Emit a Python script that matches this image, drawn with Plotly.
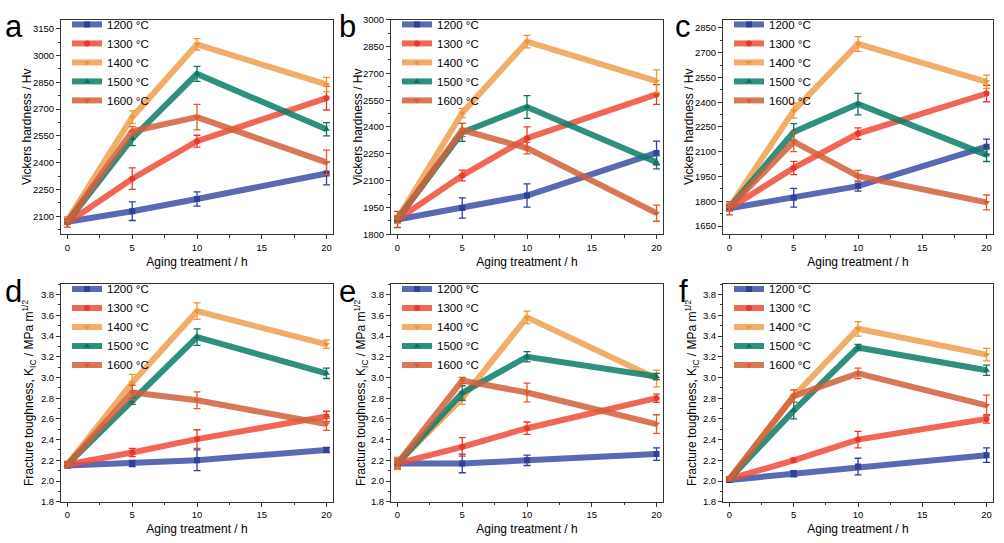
import plotly.graph_objects as go

# ---------------- data ----------------
hours = [0, 5, 10, 20]
temps = ["1200 °C", "1300 °C", "1400 °C", "1500 °C", "1600 °C"]

# Vickers hardness (Hv): rows = 1200..1600 °C
a_vals = [[2070, 2129, 2197, 2340], [2065, 2311, 2521, 2762], [2078, 2655, 3062, 2838],
          [2069, 2536, 2897, 2587], [2072, 2576, 2655, 2402]]
a_errs = [[12, 52, 40, 64], [25, 60, 33, 67], [20, 35, 32, 40], [12, 40, 42, 37], [15, 26, 71, 69]]

b_vals = [[1883, 1947, 2017, 2255], [1883, 2129, 2337, 2582], [1887, 2479, 2877, 2656],
          [1885, 2370, 2512, 2203], [1883, 2383, 2282, 1918]]
b_errs = [[15, 57, 65, 66], [45, 30, 64, 55], [20, 25, 35, 64], [15, 50, 64, 37], [20, 37, 32, 45]]

c_vals = [[1757, 1821, 1892, 2131], [1757, 2002, 2210, 2453], [1763, 2349, 2753, 2524],
          [1763, 2220, 2389, 2081], [1763, 2161, 1952, 1793]]
c_errs = [[15, 57, 30, 45], [40, 40, 35, 50], [20, 45, 45, 40], [15, 50, 65, 40], [20, 60, 35, 45]]

# Fracture toughness (MPa m^1/2)
d_vals = [[2.15, 2.17, 2.20, 2.30], [2.16, 2.275, 2.405, 2.624], [2.16, 2.95, 3.64, 3.32],
          [2.16, 2.77, 3.39, 3.04], [2.16, 2.855, 2.78, 2.55]]
d_errs = [[0.02, 0.03, 0.10, 0.025], [0.03, 0.04, 0.09, 0.05], [0.02, 0.08, 0.08, 0.04],
          [0.02, 0.03, 0.08, 0.05], [0.02, 0.07, 0.08, 0.06]]

e_vals = [[2.17, 2.17, 2.20, 2.26], [2.17, 2.33, 2.51, 2.80], [2.17, 2.80, 3.58, 2.99],
          [2.17, 2.85, 3.20, 3.01], [2.17, 2.97, 2.855, 2.55]]
e_errs = [[0.03, 0.09, 0.05, 0.06], [0.05, 0.09, 0.06, 0.04], [0.06, 0.06, 0.06, 0.08],
          [0.03, 0.07, 0.05, 0.03], [0.03, 0.03, 0.09, 0.09]]

f_vals = [[2.01, 2.07, 2.14, 2.25], [2.02, 2.20, 2.40, 2.60], [2.02, 2.82, 3.47, 3.22],
          [2.02, 2.68, 3.29, 3.07], [2.02, 2.82, 3.04, 2.73]]
f_errs = [[0.02, 0.03, 0.08, 0.07], [0.02, 0.02, 0.08, 0.04], [0.02, 0.06, 0.07, 0.06],
          [0.02, 0.08, 0.03, 0.05], [0.02, 0.06, 0.05, 0.10]]

x_title = "Aging treatment / h"
hv_title = "Vickers hardness / Hv"
kic_title = "Fracture toughness, K<sub>IC</sub> / MPa m<sup>1/2</sup>"

# ---------------- style ----------------
line_colors = ["rgba(60,80,165,0.85)", "rgba(238,75,58,0.85)", "rgba(239,160,80,0.85)",
               "rgba(10,125,105,0.85)", "rgba(210,95,60,0.85)"]
marker_colors = ["#2e3f9c", "#e8382b", "#f09332", "#146f5f", "#e05b2c"]
symbols = ["square", "circle", "triangle-down", "triangle-up", "triangle-down"]

FONT = "Arial, Liberation Sans, sans-serif"
W, H = 1004, 543

col_dom = [[61 / W, 333 / W], [391 / W, 663 / W], [723 / W, 993 / W]]
row_dom = [[1 - 233 / H, 1 - 14 / H], [1 - 506 / H, 1 - 284 / H]]

# (label, values, errors, y-range, tick0, dtick, y-title, row, col, label x px, y-title x px)
panels = [
    ("a", a_vals, a_errs, [2000, 3200], 2100, 150, hv_title, 0, 0, 3, 27),
    ("b", b_vals, b_errs, [1800, 3000], 1800, 150, hv_title, 0, 1, 337, 358),
    ("c", c_vals, c_errs, [1600, 2900], 1650, 150, hv_title, 0, 2, 673, 689),
    ("d", d_vals, d_errs, [1.8, 3.9], 1.8, 0.2, kic_title, 1, 0, 3, 29),
    ("e", e_vals, e_errs, [1.8, 3.9], 1.8, 0.2, kic_title, 1, 1, 337, 361),
    ("f", f_vals, f_errs, [1.8, 3.9], 1.8, 0.2, kic_title, 1, 2, 677, 692),
]

fig = go.Figure()
layout = dict(
    width=W, height=H,
    margin=dict(l=0, r=0, t=0, b=0),
    paper_bgcolor="white", plot_bgcolor="white",
    font=dict(family=FONT, color="black", size=11),
    annotations=[],
)

for i, (lab, vals, errs, yr, y0, dy, ytitle, r, c, lab_x, yt_x) in enumerate(panels):
    n = "" if i == 0 else str(i + 1)
    leg = "legend" + n
    for k in range(5):
        fig.add_trace(go.Scatter(
            x=hours, y=vals[k], name=temps[k], mode="lines+markers",
            xaxis="x" + n, yaxis="y" + n, legend=leg,
            line=dict(color=line_colors[k], width=6),
            marker=dict(symbol=symbols[k], size=6, color=marker_colors[k]),
            error_y=dict(type="data", array=errs[k], color=marker_colors[k],
                         thickness=1.3, width=3.5),
        ))
    axis_common = dict(
        showline=True, linecolor="#333", linewidth=1, mirror=True,
        ticks="outside", ticklen=4, tickwidth=1, tickcolor="#333",
        showgrid=False, zeroline=False,
        tickfont=dict(size=9.5, family=FONT),
        title_font=dict(size=12, family=FONT),
    )
    layout["xaxis" + n] = dict(
        axis_common, domain=col_dom[c], anchor="y" + n,
        range=[-0.5, 20.5], tick0=0, dtick=5,
        minor=dict(ticks="outside", ticklen=2.5, dtick=2.5, tick0=0, tickcolor="#333"),
        title=dict(text=x_title, standoff=5),
    )
    layout["yaxis" + n] = dict(
        axis_common, domain=row_dom[r], anchor="x" + n,
        range=yr, tick0=y0, dtick=dy,
        tickformat=".1f" if dy < 1 else "d",
        minor=dict(ticks="outside", ticklen=2.5, dtick=dy / 2, tick0=y0, tickcolor="#333"),
    )
    layout[leg] = dict(
        x=col_dom[c][0] + 6 / W, y=row_dom[r][1] + 10 / H,
        xanchor="left", yanchor="top",
        bgcolor="rgba(0,0,0,0)", borderwidth=0,
        font=dict(size=11.5, family=FONT), tracegroupgap=0,
        itemwidth=30,
    )
    # y-axis title (placed as rotated text to match the reference position)
    layout["annotations"].append(dict(
        text=ytitle, xref="paper", yref="paper",
        x=yt_x / W, y=(row_dom[r][0] + row_dom[r][1]) / 2,
        xanchor="center", yanchor="middle", textangle=-90, showarrow=False,
        font=dict(size=12, family=FONT, color="black"),
    ))
    # panel label
    layout["annotations"].append(dict(
        text=lab, xref="paper", yref="paper",
        x=lab_x / W, y=row_dom[r][1] - 7 / H,
        xanchor="left", yanchor="middle", showarrow=False,
        font=dict(size=31, family=FONT, color="black"),
    ))

fig.update_layout(**layout)
fig.write_html(
    "out.html",
    config={"displayModeBar": False},
    post_script="document.body.style.margin='0';document.body.style.overflow='hidden';",
)
